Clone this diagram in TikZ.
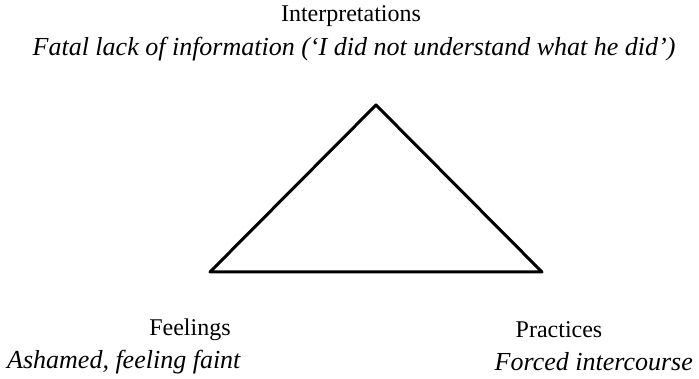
\documentclass[tikz,border=0pt]{standalone}
\usepackage{fontspec}
\setmainfont{Liberation Serif}
\begin{document}
\begin{tikzpicture}[x=1pt, y=-1pt, label/.style = {font=\fontsize{24}{28}\selectfont, inner sep=0pt}, note/.style = {inner sep=0pt, font=\fontsize{26}{30}\selectfont\itshape}] 
			\useasboundingbox (0,0) rectangle (699,379);
			\coordinate (top) at (376,105);
			\coordinate (left) at (210,272);
			\coordinate (right) at (542,272);
			\node[label] (interp) at (351,16) {Interpretations};
			\node[note] (lack) at (354,49) {Fatal lack of information (‘I did not understand what he did’)};
			\node[label] (feel) at (190,330) {Feelings};
			\node[note, anchor=west] (faint) at (7,362) {Ashamed, feeling faint};
			\node[label] (prac) at (559,330) {Practices};
			\node[note, anchor=east] (forced) at (693,362) {Forced intercourse};
			\draw[line width=3pt, line join=round] (top) -- (right) -- (left) -- cycle;
		\end{tikzpicture}
\end{document}
